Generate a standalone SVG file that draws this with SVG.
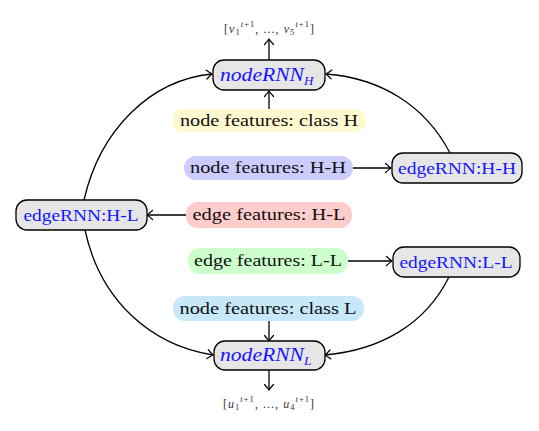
<svg xmlns="http://www.w3.org/2000/svg" width="539" height="431" viewBox="0 0 539 431">
<style>
.rnn{fill:#e6e6e6;stroke:#000;stroke-width:1.3}
.t{font-family:"Liberation Serif","DejaVu Serif",serif;font-size:17px;text-anchor:middle;fill:#111}
.s{text-anchor:start}
.b{fill:#1515ff}
.m{font-family:"Liberation Serif","DejaVu Serif",serif;font-size:12px;fill:#333}
.c{fill:none;stroke:#000;stroke-width:1.3;marker-end:url(#ah)}
</style>
<defs>
<marker id="ah" markerUnits="userSpaceOnUse" markerWidth="14" markerHeight="14" viewBox="-8 -7 10 14" refX="0" refY="0" orient="auto">
<path d="M-5.5,-4.5 Q-1.5,-1 0,0 Q-1.5,1 -5.5,4.5" fill="none" stroke="#000" stroke-width="1.2" stroke-linecap="round"/>
</marker>
</defs>
<rect width="539" height="431" fill="#fff"/>
<g id="connectors">
<path class="c" d="M269,60 L269,39"/>
<path class="c" d="M269,109 L269,91"/>
<path class="c" d="M353,168 L391,168"/>
<path class="c" d="M186,215 L147,215"/>
<path class="c" d="M348,261 L392,261"/>
<path class="c" d="M269,321 L269,341"/>
<path class="c" d="M269,370 L269,390"/>
<path class="c" d="M84,200 C100,130 150,80 212,74"/>
<path class="c" d="M450,153 C425,105 380,78 326,74"/>
<path class="c" d="M85,230 C100,300 150,345 213,355"/>
<path class="c" d="M449,277 C425,325 380,350 325,355"/>
</g>
<g id="out-H">
<text class="m" x="224" y="33" textLength="90" lengthAdjust="spacing">[<tspan font-style="italic">v</tspan><tspan font-size="8.5" dy="2">1</tspan><tspan font-size="8.5" font-style="italic" dy="-8">t</tspan><tspan font-size="8.5">+1</tspan><tspan dy="6">, ..., </tspan><tspan font-style="italic">v</tspan><tspan font-size="8.5" dy="2">5</tspan><tspan font-size="8.5" font-style="italic" dy="-8">t</tspan><tspan font-size="8.5">+1</tspan><tspan dy="6">]</tspan></text>
</g>
<g id="nodeRNN_H">
<rect class="rnn" x="213" y="60" width="112" height="30" rx="11"/>
<text class="t b s" x="220" y="81" font-style="italic"><tspan font-size="18" textLength="84" lengthAdjust="spacingAndGlyphs">nodeRNN</tspan><tspan font-size="13" dy="4">H</tspan></text>
</g>
<g id="nf-classH">
<rect x="172" y="109" width="194" height="23" rx="11.5" fill="#fff9d2"/>
<text class="t" x="269" y="126" textLength="178" lengthAdjust="spacingAndGlyphs">node features: class H</text>
</g>
<g id="nf-HH">
<rect x="184" y="156" width="169" height="24" rx="12" fill="#ccccff"/>
<text class="t" x="268" y="173" textLength="156" lengthAdjust="spacingAndGlyphs">node features: H-H</text>
</g>
<g id="edgeRNN-HH">
<rect class="rnn" x="392" y="153" width="130" height="30" rx="11"/>
<text class="t b" x="457" y="174" textLength="118" lengthAdjust="spacingAndGlyphs">edgeRNN:H-H</text>
</g>
<g id="edgeRNN-HL">
<rect class="rnn" x="16" y="200" width="131" height="30" rx="11"/>
<text class="t b" x="81" y="221" textLength="115" lengthAdjust="spacingAndGlyphs">edgeRNN:H-L</text>
</g>
<g id="ef-HL">
<rect x="186" y="202" width="166" height="26" rx="12" fill="#ffcccc"/>
<text class="t" x="269" y="220" textLength="153" lengthAdjust="spacingAndGlyphs">edge features: H-L</text>
</g>
<g id="ef-LL">
<rect x="188" y="248" width="160" height="26" rx="12" fill="#ccffcc"/>
<text class="t" x="268" y="266" textLength="148" lengthAdjust="spacingAndGlyphs">edge features: L-L</text>
</g>
<g id="edgeRNN-LL">
<rect class="rnn" x="393" y="247" width="127" height="30" rx="11"/>
<text class="t b" x="456" y="268" textLength="113" lengthAdjust="spacingAndGlyphs">edgeRNN:L-L</text>
</g>
<g id="nf-classL">
<rect x="173" y="296" width="191" height="25" rx="12" fill="#c6e8f8"/>
<text class="t" x="268" y="314" textLength="177" lengthAdjust="spacingAndGlyphs">node features: class L</text>
</g>
<g id="nodeRNN_L">
<rect class="rnn" x="214" y="341" width="111" height="29" rx="11"/>
<text class="t b s" x="220" y="361" font-style="italic"><tspan font-size="18" textLength="84" lengthAdjust="spacingAndGlyphs">nodeRNN</tspan><tspan font-size="13" dy="4">L</tspan></text>
</g>
<g id="out-L">
<text class="m" x="223" y="408" textLength="91" lengthAdjust="spacing">[<tspan font-style="italic">u</tspan><tspan font-size="8.5" dy="2">1</tspan><tspan font-size="8.5" font-style="italic" dy="-8">t</tspan><tspan font-size="8.5">+1</tspan><tspan dy="6">, ..., </tspan><tspan font-style="italic">u</tspan><tspan font-size="8.5" dy="2">4</tspan><tspan font-size="8.5" font-style="italic" dy="-8">t</tspan><tspan font-size="8.5">+1</tspan><tspan dy="6">]</tspan></text>
</g>
</svg>
